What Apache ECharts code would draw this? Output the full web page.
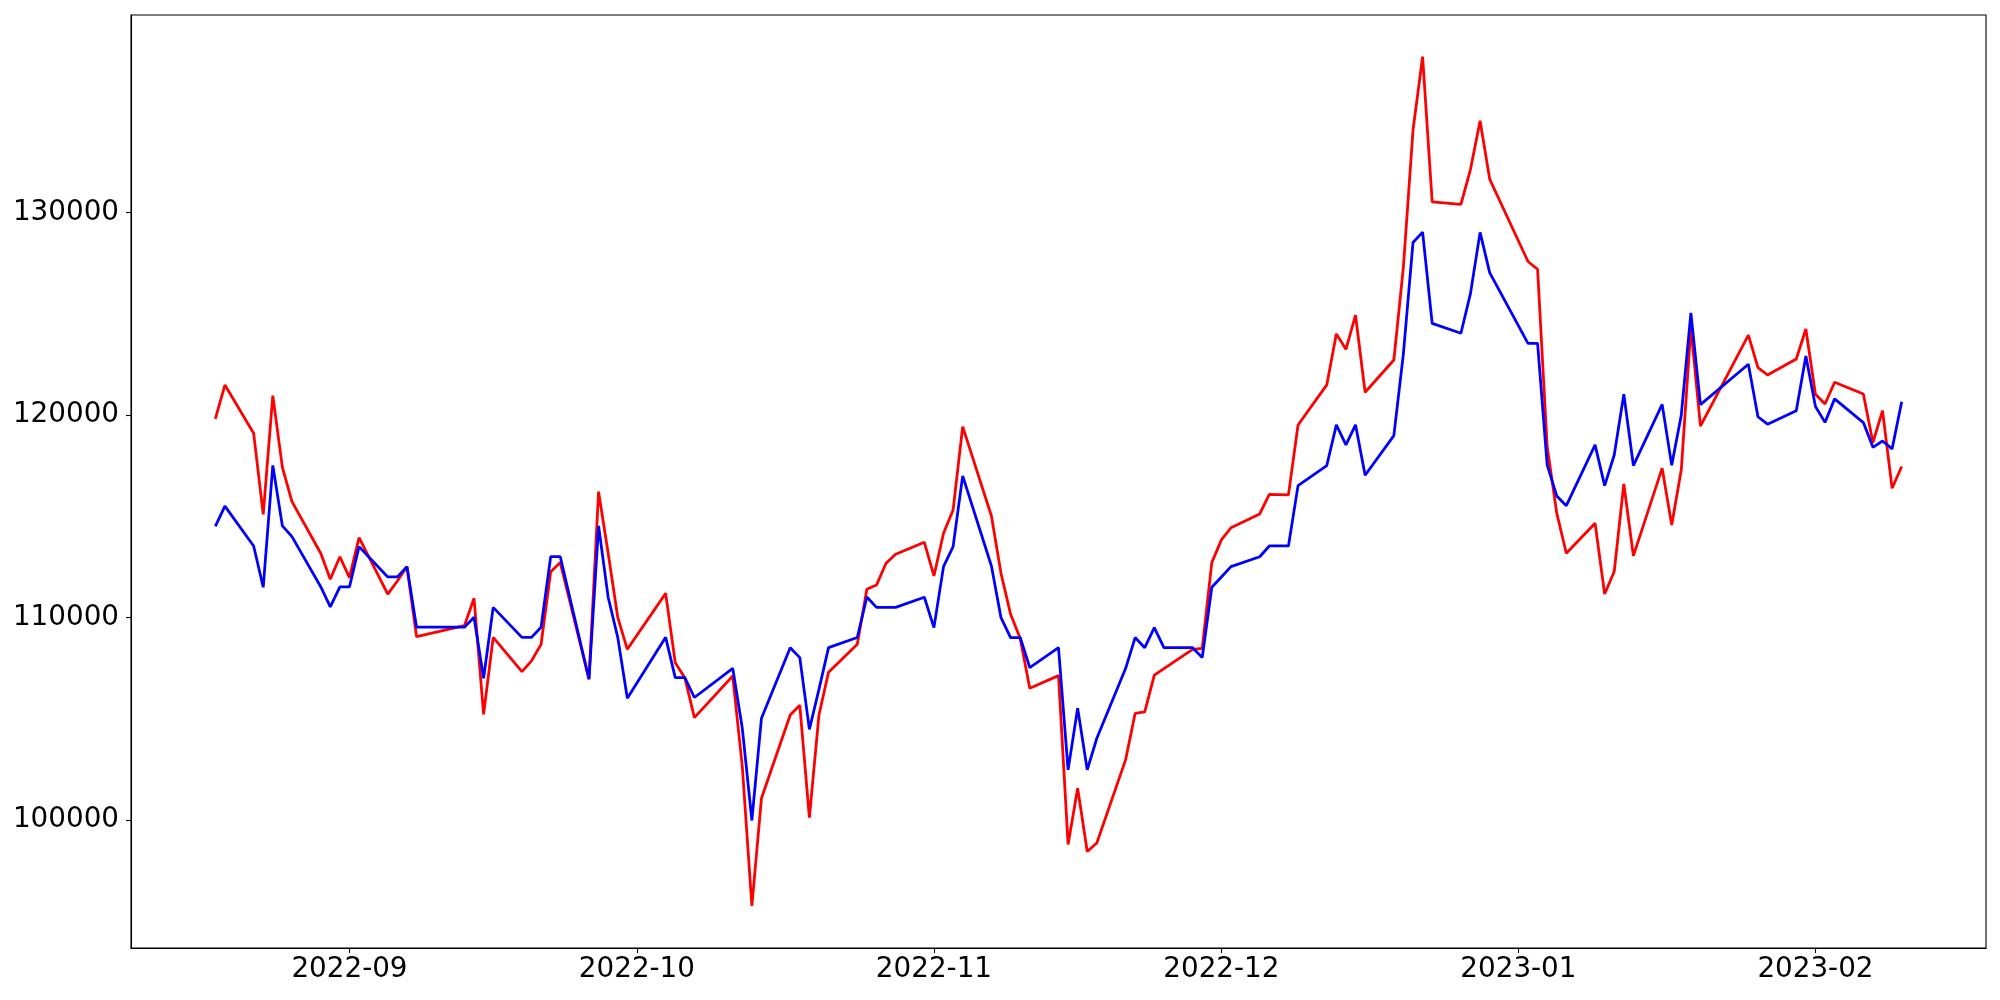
<!DOCTYPE html>
<html>
<head>
<meta charset="utf-8">
<script src="https://cdn.jsdelivr.net/npm/echarts@6/dist/echarts.min.js"></script>
<style>
html,body{margin:0;padding:0;background:#fff;}
#chart{width:2000px;height:1000px;}
</style>
</head>
<body>
<div id="chart"></div>
<script>
const dates = [
'2022-08-18','2022-08-19','2022-08-22','2022-08-23','2022-08-24','2022-08-25','2022-08-26',
'2022-08-29','2022-08-30','2022-08-31','2022-09-01','2022-09-02',
'2022-09-05','2022-09-06','2022-09-07','2022-09-08',
'2022-09-13','2022-09-14','2022-09-15','2022-09-16',
'2022-09-19','2022-09-20','2022-09-21','2022-09-22','2022-09-23',
'2022-09-26','2022-09-27','2022-09-28','2022-09-29','2022-09-30',
'2022-10-04','2022-10-05','2022-10-06','2022-10-07',
'2022-10-11','2022-10-12','2022-10-13','2022-10-14',
'2022-10-17','2022-10-18','2022-10-19','2022-10-20','2022-10-21',
'2022-10-24','2022-10-25','2022-10-26','2022-10-27','2022-10-28',
'2022-10-31','2022-11-01','2022-11-02','2022-11-03','2022-11-04',
'2022-11-07','2022-11-08','2022-11-09','2022-11-10','2022-11-11',
'2022-11-14','2022-11-15','2022-11-16','2022-11-17','2022-11-18',
'2022-11-21','2022-11-22','2022-11-23','2022-11-24','2022-11-25',
'2022-11-28','2022-11-29','2022-11-30','2022-12-01','2022-12-02',
'2022-12-05','2022-12-06','2022-12-08','2022-12-09',
'2022-12-12','2022-12-13','2022-12-14','2022-12-15','2022-12-16',
'2022-12-19','2022-12-20','2022-12-21','2022-12-22','2022-12-23',
'2022-12-26','2022-12-27','2022-12-28','2022-12-29',
'2023-01-02','2023-01-03','2023-01-04','2023-01-05','2023-01-06',
'2023-01-09','2023-01-10','2023-01-11','2023-01-12','2023-01-13',
'2023-01-16','2023-01-17','2023-01-18','2023-01-19','2023-01-20',
'2023-01-25','2023-01-26','2023-01-27',
'2023-01-30','2023-01-31','2023-02-01','2023-02-02','2023-02-03',
'2023-02-06','2023-02-07','2023-02-08','2023-02-09','2023-02-10'
];
const redValues = [
119800,121475,119090,115093,120950,117410,115720,
113170,111890,113000,111970,113940,
111150,111800,112510,109060,
109600,110950,105220,109020,
107330,107860,108680,112260,112710,
106950,116210,113170,110010,108430,
111190,107770,107030,105060,
107110,102640,95760,101080,
105190,105670,100120,105190,107300,
108680,111390,111600,112680,113120,
113710,112050,114160,115310,119420,
115010,112180,110160,108970,106510,
107130,98800,101570,98450,98870,
102970,105270,105340,107160,107480,
108430,108480,112710,113830,114430,
115110,116080,116050,119500,
121480,124000,123240,124920,121120,
122710,127320,134060,137680,130510,
130390,132120,134520,131640,
127570,127190,118440,115150,113170,
114650,111160,112270,116590,113040,
117370,114570,117300,124300,119450,
123940,122330,121970,
122760,124240,121020,120540,121610,
121030,118630,120210,116380,117450
];
const blueValues = [
114500,115500,113530,111490,117510,114520,113990,
111520,110520,111510,111510,113500,
112000,112000,112510,109520,
109520,110010,107000,110500,
109020,109020,109520,113000,113000,
106950,114520,111000,109020,106010,
109020,107030,107030,106050,
107490,104530,99980,105030,
108510,108020,104480,106450,108510,
109010,111010,110500,110500,110500,
111000,109500,112510,113500,116990,
112540,109990,109010,109010,107530,
108510,102480,105520,102480,104040,
107480,109010,108510,109500,108510,
108510,108020,111490,112000,112510,
113000,113530,113530,116510,
117500,119510,118520,119510,117020,
118980,123040,128510,129020,124520,
124030,126000,129010,127020,
123530,123530,117530,116000,115520,
118520,116510,118020,121020,117500,
120520,117510,120000,125030,120510,
122500,119910,119540,
120210,122910,120410,119630,120790,
119620,118400,118710,118320,120650
];
const monthTicks = ['2022-09-01','2022-10-01','2022-11-01','2022-12-01','2023-01-01','2023-02-01'];
const yTicks = [100000,110000,120000,130000];

function ts(s){ const p = s.split('-').map(Number); return Date.UTC(p[0], p[1]-1, p[2]); }
const DAY = 86400000;
const xMin = ts(dates[0]) - 8.8*DAY;
const xMax = ts(dates[dates.length-1]) + 8.8*DAY;
const monthTs = monthTicks.map(ts);

const chart = echarts.init(document.getElementById('chart'), null, {renderer:'canvas'});
const FONT = 'DejaVu Sans';
chart.setOption({
  animation: false,
  backgroundColor: '#ffffff',
  grid: {left:131, right:14, top:15, bottom:52, show:true, borderColor:'#000', borderWidth:1.1, outerBoundsMode:'none', containLabel:false},
  xAxis: {
    type:'value', min:xMin, max:xMax, scale:true,
    axisLine:{show:true, onZero:false, lineStyle:{color:'#000', width:1.1}},
    axisTick:{show:true, length:5, lineStyle:{color:'#000', width:1.1}, customValues: monthTs},
    axisLabel:{show:true, customValues: monthTs, color:'#000', fontFamily:FONT, fontSize:27.8, margin:8,
      formatter: function(v){ const d = new Date(v); return d.getUTCFullYear() + '-' + String(d.getUTCMonth()+1).padStart(2,'0'); }},
    splitLine:{show:false}, minorTick:{show:false}
  },
  yAxis: {
    type:'value', min:93686, max:139739, scale:true,
    axisLine:{show:true, onZero:false, lineStyle:{color:'#000', width:1.1}},
    axisTick:{show:true, length:5, lineStyle:{color:'#000', width:1.1}, customValues: yTicks},
    axisLabel:{show:true, customValues: yTicks, color:'#000', fontFamily:FONT, fontSize:27.8, margin:12,
      formatter: function(v){ return String(Math.round(v)); }},
    splitLine:{show:false}
  },
  series: [
    {type:'line', data: dates.map((d,i)=>[ts(d), redValues[i]]), showSymbol:false, symbol:'none',
     lineStyle:{color:'#ff0000', width:2.78}, itemStyle:{color:'#ff0000'}, z:2},
    {type:'line', data: dates.map((d,i)=>[ts(d), blueValues[i]]), showSymbol:false, symbol:'none',
     lineStyle:{color:'#0000ff', width:2.78}, itemStyle:{color:'#0000ff'}, z:3}
  ]
});
</script>
</body>
</html>
